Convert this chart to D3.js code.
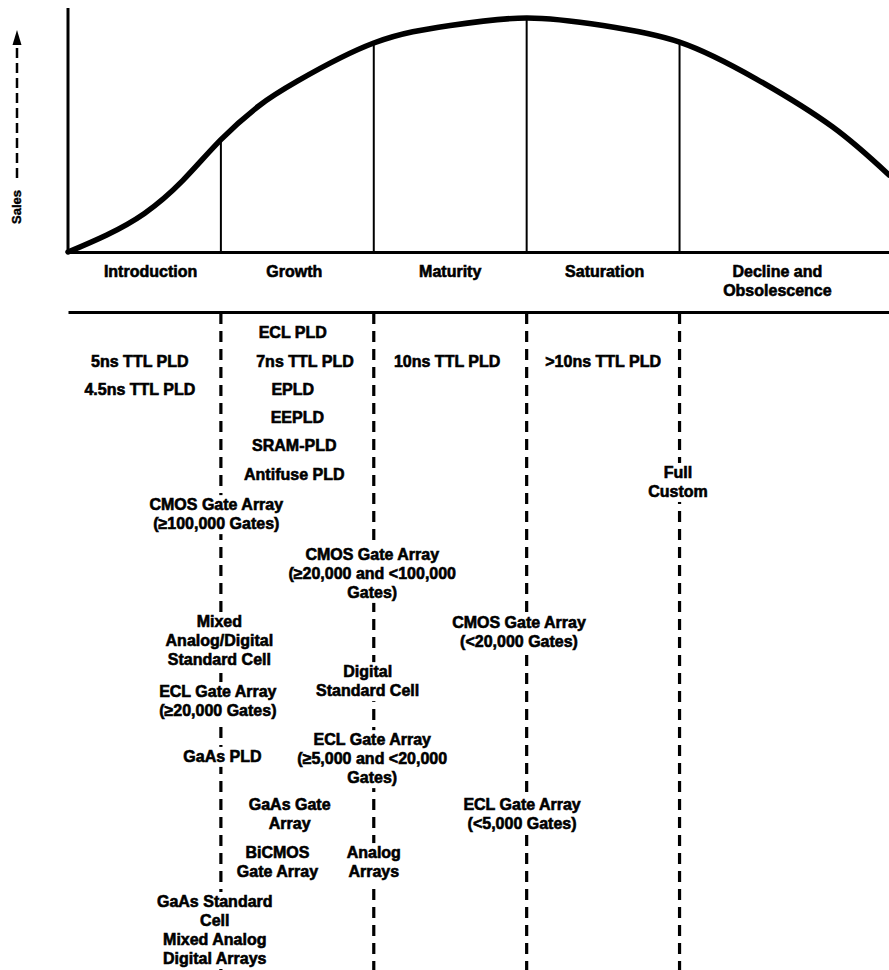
<!DOCTYPE html>
<html><head><meta charset="utf-8">
<script src="https://cdn.jsdelivr.net/npm/d3@7"></script>
<style>
html,body{margin:0;padding:0;background:#fff;}
svg{display:block;}
text{font-family:"Liberation Sans",Arial,Helvetica,sans-serif;font-weight:bold;}
</style></head><body>
<svg id="chart" width="889" height="970"></svg>
<script>
// ---- data ----
const stageNames = ["Introduction", "Growth", "Maturity", "Saturation", "Decline and\nObsolescence"];
const stageLabelT = [0.54, 1.48, 2.5, 3.51, 4.64];
const stageBounds = [1, 2, 3, 4];

const curveT     = [0, 0.25, 0.5, 0.75, 1.0, 1.25, 1.5, 2.0, 2.5, 3.0, 3.5, 4.0, 4.5, 5.0, 5.37];
const curveSales = [0, 7.2, 16.5, 30.5, 48, 62.5, 73, 89.3, 96.8, 100, 96.8, 89.7, 74, 53.5, 32.9];

const techNames = [
  "ECL PLD",
  "5ns TTL PLD",
  "7ns TTL PLD",
  "10ns TTL PLD",
  ">10ns TTL PLD",
  "4.5ns TTL PLD",
  "EPLD",
  "EEPLD",
  "SRAM-PLD",
  "Antifuse PLD",
  "Full\nCustom",
  "CMOS Gate Array\n(≥100,000 Gates)",
  "CMOS Gate Array\n(≥20,000 and <100,000\nGates)",
  "Mixed\nAnalog/Digital\nStandard Cell",
  "CMOS Gate Array\n(<20,000 Gates)",
  "Digital\nStandard Cell",
  "ECL Gate Array\n(≥20,000 Gates)",
  "GaAs PLD",
  "ECL Gate Array\n(≥5,000 and <20,000\nGates)",
  "GaAs Gate\nArray",
  "ECL Gate Array\n(<5,000 Gates)",
  "BiCMOS\nGate Array",
  "Analog\nArrays",
  "GaAs Standard\nCell\nMixed Analog\nDigital Arrays"
];
const techT   = [1.47, 0.47, 1.55, 2.48, 3.50, 0.47, 1.47, 1.50, 1.48, 1.48, 3.99, 0.97, 1.99, 0.99, 2.95, 1.96, 0.98, 1.01, 1.99, 1.45, 2.97, 1.37, 2.0, 0.96];
const techRow = [0, 1.02, 1.02, 1.02, 1.02, 2.0, 2.0, 2.99, 3.97, 4.99, 4.92, 6.05, 7.80, 10.16, 10.19, 11.92, 12.62, 14.90, 14.31, 16.59, 16.59, 18.28, 18.28, 20.0];

// ---- layout ----
const W = 889, H = 970;
const svg = d3.select("#chart");
const x = d3.scaleLinear().domain([0, 5.37]).range([68, 889]);
const y = d3.scaleLinear().domain([0, 100]).range([252, 18]);
const rowY = d3.scaleLinear().domain([0, 20]).range([338, 907]);
const lineH = 19;
const axisTop = 8;
const tableLineY = 312;

const salesAt = t => curveSales[curveT.indexOf(t)];

// y axis line
svg.append("line").attr("x1", x(0)).attr("x2", x(0)).attr("y1", axisTop).attr("y2", y(0) + 1.5)
  .attr("stroke", "#000").attr("stroke-width", 3);

// x axis (baseline) through d3 axis
const xAxis = svg.append("g").attr("transform", `translate(0,${y(0)})`)
  .call(d3.axisBottom(x).tickValues([]).tickSizeOuter(0));
xAxis.select(".domain").attr("stroke", "#000").attr("stroke-width", 3);

// stage separator lines (solid)
svg.selectAll("line.stage").data(stageBounds).join("line").attr("class", "stage")
  .attr("x1", d => x(d)).attr("x2", d => x(d))
  .attr("y1", d => y(salesAt(d))).attr("y2", y(0))
  .attr("stroke", "#000").attr("stroke-width", 2);

// sales curve
const lineGen = d3.line().x((d, i) => x(curveT[i])).y(d => y(d)).curve(d3.curveNatural);
svg.append("path").attr("d", lineGen(curveSales))
  .attr("fill", "none").attr("stroke", "#000").attr("stroke-width", 5.5).attr("stroke-linecap", "round");

// stage labels
stageNames.forEach((name, i) => {
  const t = svg.append("text").attr("text-anchor", "middle")
    .attr("font-size", 16).attr("stroke", "#000").attr("stroke-width", 0.6)
    .attr("x", x(stageLabelT[i])).attr("y", 277);
  name.split("\n").forEach((ln, j) => {
    t.append("tspan").attr("x", x(stageLabelT[i])).attr("dy", j === 0 ? 0 : lineH).text(ln);
  });
});

// table top line
const tAxis = svg.append("g").attr("transform", `translate(0,${tableLineY})`)
  .call(d3.axisBottom(x).tickValues([]).tickSizeOuter(0));
tAxis.select(".domain").attr("stroke", "#000").attr("stroke-width", 3);

// dashed stage lines in the table
svg.selectAll("line.dash").data(stageBounds).join("line").attr("class", "dash")
  .attr("x1", d => x(d)).attr("x2", d => x(d))
  .attr("y1", tableLineY + 1).attr("y2", H)
  .attr("stroke", "#000").attr("stroke-width", 3.2).attr("stroke-dasharray", "11,7");

// technology labels
techNames.forEach((name, i) => {
  const g = svg.append("g");
  const cx = x(techT[i]);
  const t = g.append("text").attr("text-anchor", "middle")
    .attr("font-size", 16).attr("stroke", "#000").attr("stroke-width", 0.6)
    .attr("x", cx).attr("y", rowY(techRow[i]));
  name.split("\n").forEach((ln, j) => {
    t.append("tspan").attr("x", cx).attr("dy", j === 0 ? 0 : lineH).text(ln);
  });
  const bb = t.node().getBBox();
  g.insert("rect", "text").attr("x", bb.x - 2).attr("y", bb.y - 1)
    .attr("width", bb.width + 4).attr("height", bb.height + 3).attr("fill", "#fff");
});

// Sales label with dashed arrow
svg.append("text").attr("transform", "translate(21,207) rotate(-90)")
  .attr("text-anchor", "middle").attr("font-size", 13).attr("stroke", "#000").attr("stroke-width", 0.4)
  .text("Sales");
svg.append("line").attr("x1", 17).attr("x2", 17).attr("y1", 178).attr("y2", 44)
  .attr("stroke", "#000").attr("stroke-width", 2.5).attr("stroke-dasharray", "10,5");
svg.append("path").attr("d", "M17,30 L21.5,45 L12.5,45 Z").attr("fill", "#000");
</script>
</body></html>
